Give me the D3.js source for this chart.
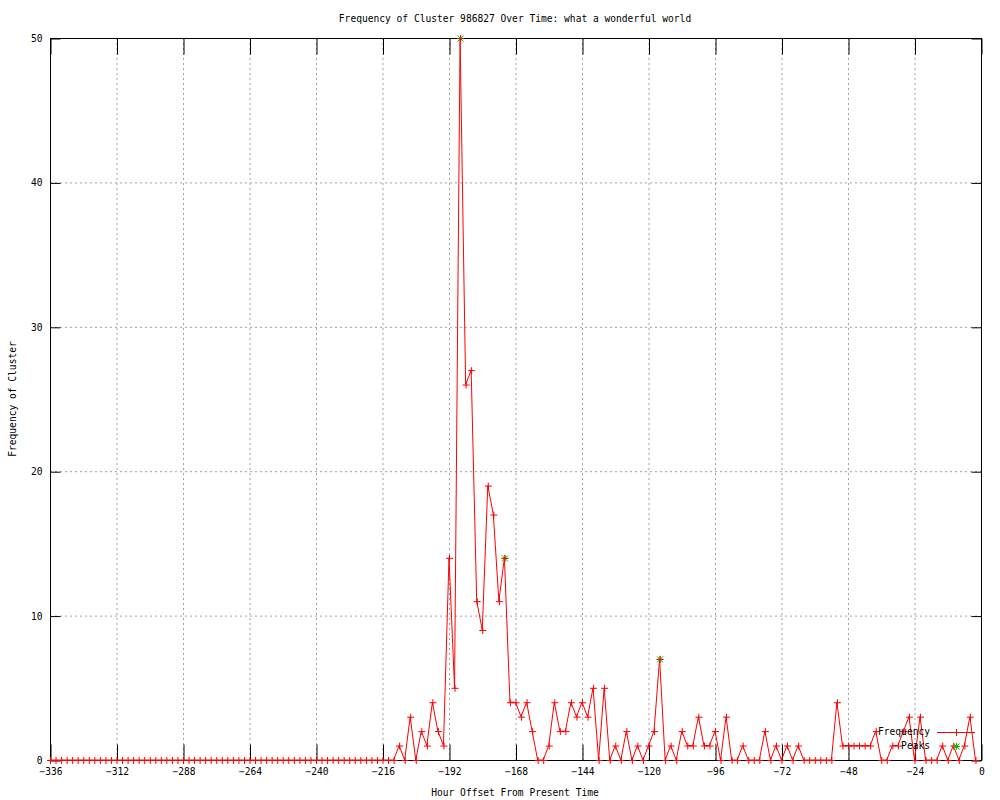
<!DOCTYPE html>
<html>
<head>
<meta charset="utf-8">
<script src="https://cdn.jsdelivr.net/npm/d3@7"></script>
<style>
    body { margin: 0; background: #fff; }
    text { font-family: "DejaVu Sans Mono", monospace; font-size: 9.6px; fill: #000; }
</style>
</head>
<body>
<script>
/*--------- données ------------------------------------*/

// heures (pas de 2h) de -336 à -2
var heures = d3.range(-336, 0, 2);

// fréquences : zéros jusqu'à -212 puis valeurs relevées
var valeursZero = d3.range(-336, -210, 2).map(function () { return 0; });
var valeursActives = [
    1, 0, 3, 0, 2, 1, 4, 2, 1, 14,      // -210 .. -192
    5, 50, 26, 27, 11, 9, 19, 17, 11, 14, // -190 .. -172
    4, 4, 3, 4, 2, 0, 0, 1, 4, 2,        // -170 .. -152
    2, 4, 3, 4, 3, 5, 0, 5, 0, 1,        // -150 .. -132
    0, 2, 0, 1, 0, 1, 2, 7, 0, 1,        // -130 .. -112
    0, 2, 1, 1, 3, 1, 1, 2, 0, 3,        // -110 .. -92
    0, 0, 1, 0, 0, 0, 2, 0, 1, 0,        // -90 .. -72
    1, 0, 1, 0, 0, 0, 0, 0, 0, 4,        // -70 .. -52
    1, 1, 1, 1, 1, 1, 2, 0, 0, 1,        // -50 .. -32
    1, 2, 3, 0, 3, 0, 0, 0, 1, 0,        // -30 .. -12
    1, 0, 1, 3, 0                        // -10 .. -2
];
var frequences = valeursZero.concat(valeursActives);

// pics
var picsHeures = [-188, -172, -116];
var picsValeurs = [50, 14, 7];

var xTicks = d3.range(-336, 1, 24);
var yTicks = [0, 10, 20, 30, 40, 50];

var titre = "Frequency of Cluster 986827 Over Time: what a wonderful world";
var labelX = "Hour Offset From Present Time";
var labelY = "Frequency of Cluster";

var data = heures.map(function (h, i) { return { h: h, v: frequences[i] }; });
var pics = picsHeures.map(function (h, i) { return { h: h, v: picsValeurs[i] }; });

/*----------------- Affichage ---------------------------- */
var width = 1000;
var height = 800;
var gauche = 50, droite = 981, haut = 38, bas = 760;

var svg = d3.select("body")
    .append("svg")
    .attr("width", width)
    .attr("height", height);

var xscale = d3.scaleLinear().domain([-336, 0]).range([gauche, droite]);
var yscale = d3.scaleLinear().domain([0, 50]).range([bas, haut]);

// grille pointillée
svg.append("g")
    .selectAll("line")
    .data(xTicks)
    .enter()
    .append("line")
    .attr("x1", function (d) { return xscale(d) + 0.5; })
    .attr("x2", function (d) { return xscale(d) + 0.5; })
    .attr("y1", haut)
    .attr("y2", bas)
    .attr("stroke", "#a0a0a0")
    .attr("stroke-dasharray", "2,3");

svg.append("g")
    .selectAll("line")
    .data(yTicks)
    .enter()
    .append("line")
    .attr("x1", gauche)
    .attr("x2", droite)
    .attr("y1", function (d) { return yscale(d) + 0.5; })
    .attr("y2", function (d) { return yscale(d) + 0.5; })
    .attr("stroke", "#a0a0a0")
    .attr("stroke-dasharray", "2,3");

// axes (ticks vers l'intérieur)
var x_axis = d3.axisBottom(xscale).tickValues(xTicks).tickSize(-16).tickPadding(8);
var y_axis = d3.axisLeft(yscale).tickValues(yTicks).tickSize(-10).tickPadding(8);

svg.append("g")
    .attr("transform", "translate(0.5," + (bas + 0.5) + ")")
    .call(x_axis);
svg.append("g")
    .attr("transform", "translate(" + (gauche + 0.5) + ",0.5)")
    .call(y_axis);

// ticks miroir haut et droite
svg.append("g")
    .attr("transform", "translate(0.5," + (haut + 0.5) + ")")
    .call(d3.axisTop(xscale).tickValues(xTicks).tickSize(-16).tickFormat(""));
svg.append("g")
    .attr("transform", "translate(" + (droite + 0.5) + ",0.5)")
    .call(d3.axisRight(yscale).tickValues(yTicks).tickSize(-10).tickFormat(""));

svg.selectAll(".domain").remove();
svg.selectAll(".tick line").attr("stroke", "#000");
svg.selectAll(".tick text").style("font-family", "DejaVu Sans Mono").style("font-size", "9.6px");

// courbe de fréquence
var line = d3.line()
    .x(function (d) { return xscale(d.h); })
    .y(function (d) { return yscale(d.v); });

svg.append("path")
    .datum(data)
    .attr("d", line)
    .attr("fill", "none")
    .attr("stroke", "#ff0000")
    .attr("stroke-width", 1);

// cadre
svg.append("rect")
    .attr("x", gauche + 0.5)
    .attr("y", haut + 0.5)
    .attr("width", droite - gauche)
    .attr("height", bas - haut)
    .attr("fill", "none")
    .attr("stroke", "#000");

// marqueurs
var plus = "M-3.5,0H3.5M0,-3.5V3.5";
var etoile = "M-3.5,0H3.5M0,-3.5V3.5M-3,-3L3,3M-3,3L3,-3";

svg.append("g")
    .selectAll("path")
    .data(pics)
    .enter()
    .append("path")
    .attr("transform", function (d) { return "translate(" + (xscale(d.h) + 0.5) + "," + (yscale(d.v) + 0.5) + ")"; })
    .attr("d", etoile)
    .attr("stroke", "#00c000")
    .attr("fill", "none");

svg.append("g")
    .selectAll("path")
    .data(data)
    .enter()
    .append("path")
    .attr("transform", function (d) { return "translate(" + (xscale(d.h) + 0.5) + "," + (yscale(d.v) + 0.5) + ")"; })
    .attr("d", plus)
    .attr("stroke", "#ff0000")
    .attr("fill", "none");

// légende
svg.append("text").attr("x", 930).attr("y", 732).attr("dy", "0.35em")
    .attr("text-anchor", "end").text("Frequency");
svg.append("line").attr("x1", 937).attr("x2", 975).attr("y1", 732.5).attr("y2", 732.5)
    .attr("stroke", "#ff0000");
svg.append("path").attr("transform", "translate(956.5,732.5)").attr("d", plus)
    .attr("stroke", "#ff0000").attr("fill", "none");
svg.append("text").attr("x", 930).attr("y", 746).attr("dy", "0.35em")
    .attr("text-anchor", "end").text("Peaks");
svg.append("path").attr("transform", "translate(956.5,746.5)").attr("d", etoile)
    .attr("stroke", "#00c000").attr("fill", "none");

// titres
svg.append("text").attr("x", 515).attr("y", 19).attr("dy", "0.35em")
    .attr("text-anchor", "middle").text(titre);
svg.append("text").attr("x", 515).attr("y", 793).attr("dy", "0.35em")
    .attr("text-anchor", "middle").text(labelX);
svg.append("text").attr("transform", "translate(13,399) rotate(-90)").attr("dy", "0.35em")
    .attr("text-anchor", "middle").text(labelY);
</script>
</body>
</html>
